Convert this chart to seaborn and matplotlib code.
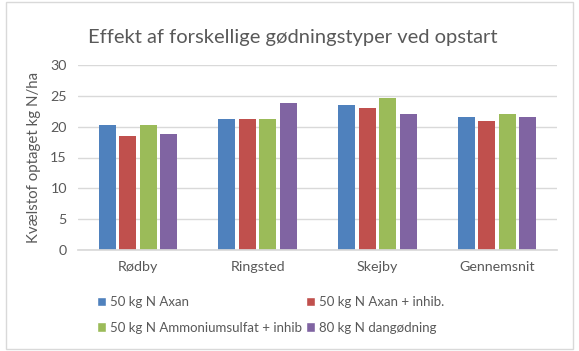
import matplotlib
matplotlib.use("Agg")
import matplotlib.pyplot as plt
import seaborn as sns
import pandas as pd
from matplotlib.patches import Rectangle

categories = ["Rødby", "Ringsted", "Skejby", "Gennemsnit"]
series_names = ["50 kg N Axan", "50 kg N Axan + inhib.",
                "50 kg N Ammoniumsulfat + inhib", "80 kg N dangødning"]
axan = [20.3, 21.2, 23.45, 21.6]
axan_inhib = [18.5, 21.2, 23.1, 20.9]
ammonium = [20.2, 21.2, 24.7, 22.0]
dang = [18.75, 23.9, 22.0, 21.5]
colors = ["#4F81BD", "#C0504D", "#9BBB59", "#8064A2"]
yticks = [0, 5, 10, 15, 20, 25, 30]

rows = []
for name, vals in zip(series_names, [axan, axan_inhib, ammonium, dang]):
    for c, v in zip(categories, vals):
        rows.append({"cat": c, "series": name, "val": v})
df = pd.DataFrame(rows)

sns.set_theme(style="white")
plt.rcParams['font.family'] = ['Lato', 'DejaVu Sans']
txt = "#595959"

fig = plt.figure(figsize=(5.79, 3.51), dpi=100)
ax = fig.add_axes([78/579, 1 - 250/351, 479/579, 185/351])
sns.barplot(data=df, x="cat", y="val", hue="series", order=categories,
            hue_order=series_names, palette=colors, width=0.685, gap=0.18,
            ax=ax, legend=False, saturation=1, linewidth=0)
ax.set_ylim(0, 30)
ax.set_xlim(-0.5, 3.5)
ax.set_yticks(yticks)
ax.yaxis.grid(True, color="#D9D9D9", linewidth=1)
ax.set_axisbelow(True)
for s in ["top", "right", "left"]:
    ax.spines[s].set_visible(False)
ax.spines["bottom"].set_color("#D9D9D9")
ax.tick_params(axis="both", length=0, colors=txt, labelsize=10.3)
ax.tick_params(axis="x", pad=8)
ax.tick_params(axis="y", pad=8)
ax.set_xlabel("")
ax.set_ylabel("Kvælstof optaget kg N/ha", color=txt, fontsize=10.8, labelpad=7)

fig.text(293/579, 1 - 37/351, "Effekt af forskellige gødningstyper ved opstart",
         ha="center", va="center", fontsize=14.5, color=txt)

# border
fig.add_artist(Rectangle((6/579, 2/351), 1 - 12/579, 1 - 4/351,
                         transform=fig.transFigure, fill=False,
                         edgecolor="#D9D9D9", linewidth=1))

handles = [Rectangle((0, 0), 1, 1, facecolor=c) for c in colors]
order = [0, 2, 1, 3]
leg = fig.legend([handles[i] for i in order], [series_names[i] for i in order],
                 ncol=2, loc="upper left",
                 bbox_to_anchor=(85/579, 1 - 284/351), frameon=False,
                 fontsize=9.5, handlelength=0.7, handleheight=0.7,
                 handletextpad=0.3, columnspacing=0.3, labelspacing=1.05)
for t in leg.get_texts():
    t.set_color(txt)

fig.savefig("out.png", dpi=100)
